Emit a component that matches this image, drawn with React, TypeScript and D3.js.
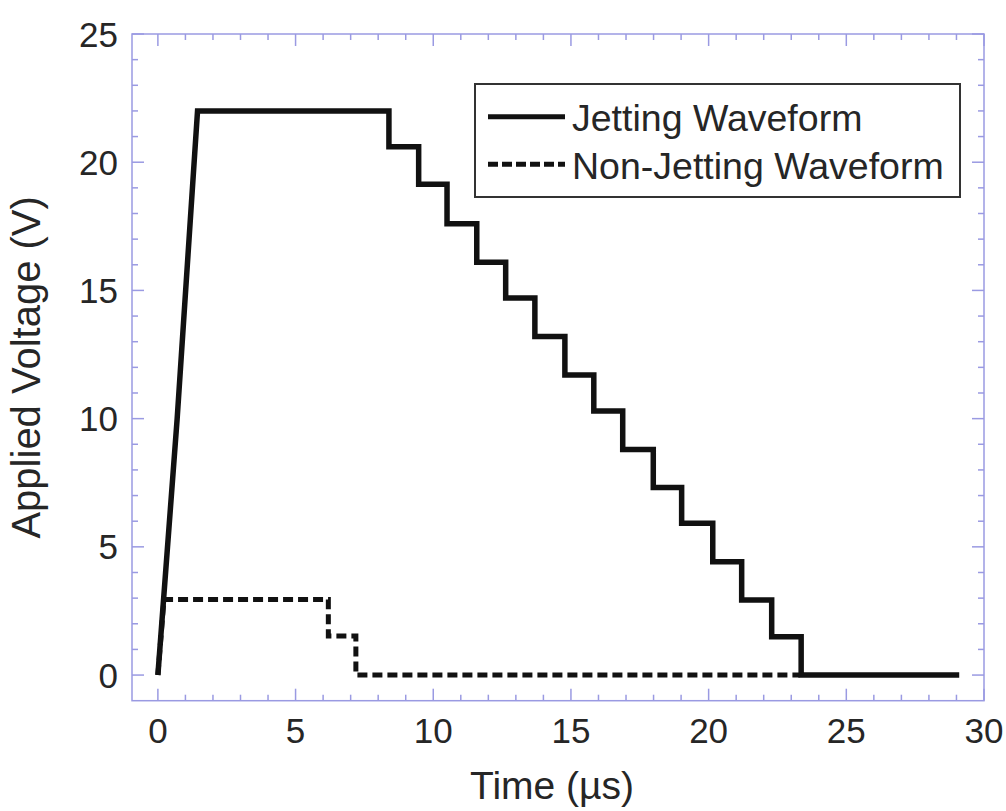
import React from "react";
import * as d3 from "d3";

const jettingT = [0, 0.7, 1.44, 8.39, 8.39, 9.47, 9.47, 10.5, 10.5, 11.58, 11.58, 12.63, 12.63, 13.69, 13.69, 14.78, 14.78, 15.83, 15.83, 16.88, 16.88, 17.99, 17.99, 19.02, 19.02, 20.15, 20.15, 21.2, 21.2, 22.29, 22.29, 23.36, 23.36, 29.1];
const jettingV = [0, 10, 22, 22, 20.6, 20.6, 19.14, 19.14, 17.6, 17.6, 16.1, 16.1, 14.7, 14.7, 13.2, 13.2, 11.7, 11.7, 10.3, 10.3, 8.8, 8.8, 7.31, 7.31, 5.92, 5.92, 4.42, 4.42, 2.93, 2.93, 1.49, 1.49, 0, 0];

const nonJettingT = [0, 0.22, 6.19, 6.19, 7.19, 7.19, 23.3];
const nonJettingV = [0, 2.95, 2.95, 1.52, 1.52, 0, 0];

const xTicks = [0, 5, 10, 15, 20, 25, 30];
const yTicks = [0, 5, 10, 15, 20, 25];
const legendLabels = ["Jetting Waveform", "Non-Jetting Waveform"];

const W = 1006;
const H = 811;
const L = 132, R = 984, T = 34, B = 700.7;
const frameColor = "#9a9ae2";
const textColor = "#262626";
const font = "'Liberation Sans', Arial, Helvetica, sans-serif";

export default function App() {
  const x = d3.scaleLinear().domain([-0.94, 30]).range([L, R]);
  const y = d3.scaleLinear().domain([-1, 25]).range([B, T]);

  const jetting = jettingT.map((t, i) => [t, jettingV[i]] as [number, number]);
  const nonJetting = nonJettingT.map((t, i) => [t, nonJettingV[i]] as [number, number]);
  const line = d3.line<[number, number]>().x(d => x(d[0])).y(d => y(d[1]));

  const xMinor = d3.range(0, 31, 1);
  const yMinor = d3.range(0, 26, 1);

  return (
    <svg width={W} height={H} style={{ position: "absolute", left: 0, top: 0, background: "#fff" }} fontFamily={font}>
      <rect x={0} y={0} width={W} height={H} fill="#fff" />
      {xMinor.map(v => {
        const major = v % 5 === 0;
        const len = major ? 12 : 6;
        return (
          <g key={"xt" + v} stroke={frameColor} strokeWidth={1.5}>
            <line x1={x(v)} x2={x(v)} y1={B} y2={B - len} />
            <line x1={x(v)} x2={x(v)} y1={T} y2={T + len} />
          </g>
        );
      })}
      {yMinor.map(v => {
        const major = v % 5 === 0;
        const len = major ? 12 : 6;
        return (
          <g key={"yt" + v} stroke={frameColor} strokeWidth={1.5}>
            <line x1={L} x2={L + len} y1={y(v)} y2={y(v)} />
            <line x1={R} x2={R - len} y1={y(v)} y2={y(v)} />
          </g>
        );
      })}
      <rect x={L} y={T} width={R - L} height={B - T} fill="none" stroke={frameColor} strokeWidth={1.5} />

      {xTicks.map(v => (
        <text key={"xl" + v} x={x(v)} y={743} textAnchor="middle" fontSize={35} fill={textColor}>{v}</text>
      ))}
      {yTicks.map(v => (
        <text key={"yl" + v} x={118} y={y(v)} dy="0.36em" textAnchor="end" fontSize={35} fill={textColor}>{v}</text>
      ))}

      <text x={552} y={799} textAnchor="middle" fontSize={39} fill={textColor}>Time (µs)</text>
      <text transform={`translate(40, ${(T + B) / 2}) rotate(-90)`} textAnchor="middle" fontSize={40} fill={textColor}>Applied Voltage (V)</text>

      <path d={line(nonJetting) || ""} fill="none" stroke="#111" strokeWidth={5} strokeDasharray="10,5" />
      <path d={line(jetting) || ""} fill="none" stroke="#111" strokeWidth={5.5} strokeLinejoin="miter" />

      <rect x={475} y={84} width={485} height={113} fill="#fff" stroke="#333" strokeWidth={2} />
      <line x1={488} x2={565} y1={116.7} y2={116.7} stroke="#111" strokeWidth={5} />
      <line x1={488} x2={565} y1={164.3} y2={164.3} stroke="#111" strokeWidth={5} strokeDasharray="10,4" />
      <text x={572} y={131} fontSize={37.5} fill={textColor}>{legendLabels[0]}</text>
      <text x={572} y={179} fontSize={37.5} fill={textColor}>{legendLabels[1]}</text>
    </svg>
  );
}
